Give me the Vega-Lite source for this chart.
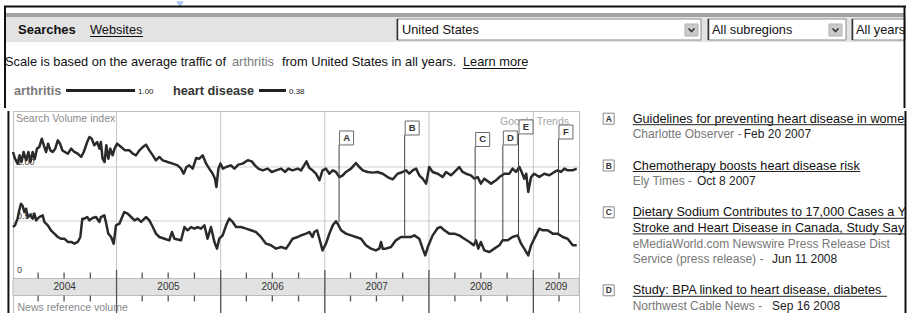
{
"$schema": "https://vega.github.io/schema/vega-lite/v6.json",
"padding": 0,
"background": "white",
"spacing": 0,
"config": {"font": "Liberation Sans", "view": {"stroke": null}},
"datasets": {
"series": [
{"date":"2004-01-04","term":"arthritis","index":1.139},{"date":"2004-01-11","term":"arthritis","index":1.077},{"date":"2004-01-20","term":"arthritis","index":1.031},{"date":"2004-01-27","term":"arthritis","index":1.108},{"date":"2004-02-03","term":"arthritis","index":1.046},{"date":"2004-02-10","term":"arthritis","index":1.139},{"date":"2004-02-19","term":"arthritis","index":1.062},{"date":"2004-02-27","term":"arthritis","index":1.139},{"date":"2004-03-05","term":"arthritis","index":1.046},{"date":"2004-03-13","term":"arthritis","index":1.139},{"date":"2004-03-20","term":"arthritis","index":1.071},{"date":"2004-03-28","term":"arthritis","index":1.170},{"date":"2004-04-05","term":"arthritis","index":1.185},{"date":"2004-04-14","term":"arthritis","index":1.262},{"date":"2004-04-21","term":"arthritis","index":1.201},{"date":"2004-04-29","term":"arthritis","index":1.139},{"date":"2004-05-06","term":"arthritis","index":1.216},{"date":"2004-05-14","term":"arthritis","index":1.154},{"date":"2004-05-22","term":"arthritis","index":1.139},{"date":"2004-05-31","term":"arthritis","index":1.170},{"date":"2004-06-09","term":"arthritis","index":1.247},{"date":"2004-06-17","term":"arthritis","index":1.216},{"date":"2004-06-25","term":"arthritis","index":1.154},{"date":"2004-07-04","term":"arthritis","index":1.139},{"date":"2004-07-14","term":"arthritis","index":1.123},{"date":"2004-07-26","term":"arthritis","index":1.170},{"date":"2004-08-06","term":"arthritis","index":1.139},{"date":"2004-08-18","term":"arthritis","index":1.123},{"date":"2004-08-30","term":"arthritis","index":1.093},{"date":"2004-09-08","term":"arthritis","index":1.139},{"date":"2004-09-20","term":"arthritis","index":1.231},{"date":"2004-09-28","term":"arthritis","index":1.278},{"date":"2004-10-06","term":"arthritis","index":1.262},{"date":"2004-10-15","term":"arthritis","index":1.201},{"date":"2004-10-25","term":"arthritis","index":1.231},{"date":"2004-11-02","term":"arthritis","index":1.170},{"date":"2004-11-07","term":"arthritis","index":1.231},{"date":"2004-11-13","term":"arthritis","index":1.077},{"date":"2004-11-20","term":"arthritis","index":1.046},{"date":"2004-11-26","term":"arthritis","index":1.201},{"date":"2004-12-03","term":"arthritis","index":1.077},{"date":"2004-12-10","term":"arthritis","index":1.170},{"date":"2004-12-18","term":"arthritis","index":1.108},{"date":"2004-12-25","term":"arthritis","index":1.170},{"date":"2005-01-03","term":"arthritis","index":1.216},{"date":"2005-01-17","term":"arthritis","index":1.185},{"date":"2005-01-31","term":"arthritis","index":1.154},{"date":"2005-02-15","term":"arthritis","index":1.154},{"date":"2005-02-27","term":"arthritis","index":1.123},{"date":"2005-03-10","term":"arthritis","index":1.108},{"date":"2005-03-22","term":"arthritis","index":1.154},{"date":"2005-04-03","term":"arthritis","index":1.185},{"date":"2005-04-14","term":"arthritis","index":1.207},{"date":"2005-04-26","term":"arthritis","index":1.154},{"date":"2005-05-08","term":"arthritis","index":1.108},{"date":"2005-05-19","term":"arthritis","index":1.062},{"date":"2005-05-31","term":"arthritis","index":1.093},{"date":"2005-06-12","term":"arthritis","index":1.062},{"date":"2005-06-29","term":"arthritis","index":1.046},{"date":"2005-07-17","term":"arthritis","index":1.031},{"date":"2005-08-03","term":"arthritis","index":1.015},{"date":"2005-08-15","term":"arthritis","index":0.985},{"date":"2005-08-24","term":"arthritis","index":0.938},{"date":"2005-09-03","term":"arthritis","index":1.000},{"date":"2005-09-13","term":"arthritis","index":1.015},{"date":"2005-09-25","term":"arthritis","index":0.985},{"date":"2005-10-07","term":"arthritis","index":1.083},{"date":"2005-10-18","term":"arthritis","index":1.077},{"date":"2005-10-30","term":"arthritis","index":1.108},{"date":"2005-11-11","term":"arthritis","index":1.031},{"date":"2005-11-22","term":"arthritis","index":0.985},{"date":"2005-12-04","term":"arthritis","index":0.938},{"date":"2005-12-12","term":"arthritis","index":0.892},{"date":"2005-12-17","term":"arthritis","index":0.815},{"date":"2005-12-24","term":"arthritis","index":0.985},{"date":"2005-12-31","term":"arthritis","index":1.031},{"date":"2006-01-09","term":"arthritis","index":0.985},{"date":"2006-01-20","term":"arthritis","index":1.000},{"date":"2006-02-06","term":"arthritis","index":1.015},{"date":"2006-02-18","term":"arthritis","index":0.985},{"date":"2006-03-04","term":"arthritis","index":1.022},{"date":"2006-03-19","term":"arthritis","index":1.031},{"date":"2006-04-06","term":"arthritis","index":1.062},{"date":"2006-04-20","term":"arthritis","index":1.052},{"date":"2006-05-01","term":"arthritis","index":1.015},{"date":"2006-05-13","term":"arthritis","index":0.985},{"date":"2006-05-28","term":"arthritis","index":0.969},{"date":"2006-06-15","term":"arthritis","index":0.985},{"date":"2006-06-29","term":"arthritis","index":0.954},{"date":"2006-07-14","term":"arthritis","index":0.969},{"date":"2006-08-01","term":"arthritis","index":0.985},{"date":"2006-08-15","term":"arthritis","index":0.954},{"date":"2006-08-26","term":"arthritis","index":0.985},{"date":"2006-09-10","term":"arthritis","index":0.969},{"date":"2006-09-28","term":"arthritis","index":0.985},{"date":"2006-10-10","term":"arthritis","index":0.969},{"date":"2006-10-24","term":"arthritis","index":1.031},{"date":"2006-10-29","term":"arthritis","index":1.052},{"date":"2006-11-08","term":"arthritis","index":0.991},{"date":"2006-11-19","term":"arthritis","index":0.969},{"date":"2006-12-01","term":"arthritis","index":0.938},{"date":"2006-12-13","term":"arthritis","index":0.877},{"date":"2006-12-24","term":"arthritis","index":0.969},{"date":"2007-01-05","term":"arthritis","index":0.985},{"date":"2007-01-17","term":"arthritis","index":0.938},{"date":"2007-01-29","term":"arthritis","index":0.969},{"date":"2007-02-09","term":"arthritis","index":0.954},{"date":"2007-02-21","term":"arthritis","index":0.907},{"date":"2007-03-05","term":"arthritis","index":0.923},{"date":"2007-03-16","term":"arthritis","index":0.954},{"date":"2007-04-03","term":"arthritis","index":0.985},{"date":"2007-04-20","term":"arthritis","index":1.037},{"date":"2007-05-02","term":"arthritis","index":1.000},{"date":"2007-05-14","term":"arthritis","index":0.969},{"date":"2007-05-31","term":"arthritis","index":0.954},{"date":"2007-06-18","term":"arthritis","index":0.948},{"date":"2007-07-05","term":"arthritis","index":0.954},{"date":"2007-07-23","term":"arthritis","index":0.938},{"date":"2007-08-09","term":"arthritis","index":0.907},{"date":"2007-08-27","term":"arthritis","index":0.886},{"date":"2007-09-13","term":"arthritis","index":0.938},{"date":"2007-10-01","term":"arthritis","index":0.954},{"date":"2007-10-13","term":"arthritis","index":0.969},{"date":"2007-10-24","term":"arthritis","index":0.938},{"date":"2007-11-05","term":"arthritis","index":0.969},{"date":"2007-11-17","term":"arthritis","index":0.985},{"date":"2007-11-28","term":"arthritis","index":0.923},{"date":"2007-12-10","term":"arthritis","index":0.892},{"date":"2007-12-22","term":"arthritis","index":0.846},{"date":"2008-01-02","term":"arthritis","index":1.000},{"date":"2008-01-14","term":"arthritis","index":0.954},{"date":"2008-02-01","term":"arthritis","index":0.938},{"date":"2008-02-18","term":"arthritis","index":0.907},{"date":"2008-03-01","term":"arthritis","index":0.954},{"date":"2008-03-18","term":"arthritis","index":0.923},{"date":"2008-04-05","term":"arthritis","index":0.969},{"date":"2008-04-16","term":"arthritis","index":1.000},{"date":"2008-04-28","term":"arthritis","index":0.954},{"date":"2008-05-10","term":"arthritis","index":0.938},{"date":"2008-05-27","term":"arthritis","index":0.923},{"date":"2008-06-08","term":"arthritis","index":0.892},{"date":"2008-06-20","term":"arthritis","index":0.907},{"date":"2008-07-01","term":"arthritis","index":0.846},{"date":"2008-07-13","term":"arthritis","index":0.892},{"date":"2008-08-06","term":"arthritis","index":0.846},{"date":"2008-08-23","term":"arthritis","index":0.877},{"date":"2008-09-04","term":"arthritis","index":0.907},{"date":"2008-09-21","term":"arthritis","index":0.938},{"date":"2008-10-09","term":"arthritis","index":0.938},{"date":"2008-10-20","term":"arthritis","index":0.985},{"date":"2008-11-01","term":"arthritis","index":0.954},{"date":"2008-11-13","term":"arthritis","index":1.000},{"date":"2008-11-21","term":"arthritis","index":0.954},{"date":"2008-11-30","term":"arthritis","index":0.892},{"date":"2008-12-07","term":"arthritis","index":0.938},{"date":"2008-12-14","term":"arthritis","index":0.769},{"date":"2008-12-24","term":"arthritis","index":0.907},{"date":"2009-01-04","term":"arthritis","index":0.938},{"date":"2009-01-22","term":"arthritis","index":0.907},{"date":"2009-02-08","term":"arthritis","index":0.938},{"date":"2009-02-26","term":"arthritis","index":0.923},{"date":"2009-03-16","term":"arthritis","index":0.954},{"date":"2009-03-27","term":"arthritis","index":0.969},{"date":"2009-04-08","term":"arthritis","index":0.954},{"date":"2009-04-20","term":"arthritis","index":0.985},{"date":"2009-05-01","term":"arthritis","index":0.969},{"date":"2009-05-19","term":"arthritis","index":0.969},{"date":"2009-06-02","term":"arthritis","index":0.985},
{"date":"2004-01-04","term":"heart disease","index":0.444},{"date":"2004-01-11","term":"heart disease","index":0.460},{"date":"2004-01-20","term":"heart disease","index":0.522},{"date":"2004-01-26","term":"heart disease","index":0.599},{"date":"2004-02-01","term":"heart disease","index":0.660},{"date":"2004-02-07","term":"heart disease","index":0.639},{"date":"2004-02-13","term":"heart disease","index":0.583},{"date":"2004-02-19","term":"heart disease","index":0.614},{"date":"2004-02-24","term":"heart disease","index":0.537},{"date":"2004-03-05","term":"heart disease","index":0.559},{"date":"2004-03-13","term":"heart disease","index":0.522},{"date":"2004-03-19","term":"heart disease","index":0.568},{"date":"2004-03-25","term":"heart disease","index":0.506},{"date":"2004-04-05","term":"heart disease","index":0.537},{"date":"2004-04-17","term":"heart disease","index":0.552},{"date":"2004-04-23","term":"heart disease","index":0.491},{"date":"2004-05-05","term":"heart disease","index":0.460},{"date":"2004-05-16","term":"heart disease","index":0.414},{"date":"2004-05-28","term":"heart disease","index":0.383},{"date":"2004-06-09","term":"heart disease","index":0.352},{"date":"2004-06-20","term":"heart disease","index":0.336},{"date":"2004-07-02","term":"heart disease","index":0.336},{"date":"2004-07-14","term":"heart disease","index":0.306},{"date":"2004-07-26","term":"heart disease","index":0.306},{"date":"2004-08-06","term":"heart disease","index":0.290},{"date":"2004-08-18","term":"heart disease","index":0.306},{"date":"2004-08-27","term":"heart disease","index":0.352},{"date":"2004-09-03","term":"heart disease","index":0.522},{"date":"2004-09-10","term":"heart disease","index":0.522},{"date":"2004-09-20","term":"heart disease","index":0.537},{"date":"2004-09-28","term":"heart disease","index":0.506},{"date":"2004-10-09","term":"heart disease","index":0.528},{"date":"2004-10-21","term":"heart disease","index":0.537},{"date":"2004-11-02","term":"heart disease","index":0.491},{"date":"2004-11-07","term":"heart disease","index":0.537},{"date":"2004-11-19","term":"heart disease","index":0.552},{"date":"2004-11-26","term":"heart disease","index":0.475},{"date":"2004-12-03","term":"heart disease","index":0.383},{"date":"2004-12-13","term":"heart disease","index":0.352},{"date":"2004-12-22","term":"heart disease","index":0.290},{"date":"2004-12-30","term":"heart disease","index":0.460},{"date":"2005-01-11","term":"heart disease","index":0.475},{"date":"2005-01-28","term":"heart disease","index":0.583},{"date":"2005-02-09","term":"heart disease","index":0.568},{"date":"2005-02-21","term":"heart disease","index":0.537},{"date":"2005-03-05","term":"heart disease","index":0.506},{"date":"2005-03-16","term":"heart disease","index":0.522},{"date":"2005-03-28","term":"heart disease","index":0.491},{"date":"2005-04-14","term":"heart disease","index":0.537},{"date":"2005-04-26","term":"heart disease","index":0.506},{"date":"2005-05-08","term":"heart disease","index":0.444},{"date":"2005-05-19","term":"heart disease","index":0.383},{"date":"2005-05-31","term":"heart disease","index":0.352},{"date":"2005-06-18","term":"heart disease","index":0.336},{"date":"2005-07-05","term":"heart disease","index":0.321},{"date":"2005-07-14","term":"heart disease","index":0.398},{"date":"2005-07-23","term":"heart disease","index":0.336},{"date":"2005-08-15","term":"heart disease","index":0.321},{"date":"2005-08-27","term":"heart disease","index":0.444},{"date":"2005-09-07","term":"heart disease","index":0.414},{"date":"2005-09-19","term":"heart disease","index":0.444},{"date":"2005-10-01","term":"heart disease","index":0.429},{"date":"2005-10-12","term":"heart disease","index":0.444},{"date":"2005-10-24","term":"heart disease","index":0.429},{"date":"2005-11-05","term":"heart disease","index":0.460},{"date":"2005-11-16","term":"heart disease","index":0.336},{"date":"2005-11-28","term":"heart disease","index":0.444},{"date":"2005-12-10","term":"heart disease","index":0.306},{"date":"2005-12-19","term":"heart disease","index":0.244},{"date":"2005-12-27","term":"heart disease","index":0.336},{"date":"2006-01-08","term":"heart disease","index":0.367},{"date":"2006-01-20","term":"heart disease","index":0.460},{"date":"2006-01-31","term":"heart disease","index":0.522},{"date":"2006-02-12","term":"heart disease","index":0.491},{"date":"2006-02-24","term":"heart disease","index":0.444},{"date":"2006-03-13","term":"heart disease","index":0.444},{"date":"2006-03-31","term":"heart disease","index":0.429},{"date":"2006-04-17","term":"heart disease","index":0.414},{"date":"2006-05-05","term":"heart disease","index":0.398},{"date":"2006-05-22","term":"heart disease","index":0.352},{"date":"2006-06-09","term":"heart disease","index":0.290},{"date":"2006-06-26","term":"heart disease","index":0.275},{"date":"2006-07-14","term":"heart disease","index":0.244},{"date":"2006-08-01","term":"heart disease","index":0.259},{"date":"2006-08-18","term":"heart disease","index":0.244},{"date":"2006-08-30","term":"heart disease","index":0.290},{"date":"2006-09-10","term":"heart disease","index":0.336},{"date":"2006-09-28","term":"heart disease","index":0.352},{"date":"2006-10-10","term":"heart disease","index":0.367},{"date":"2006-10-27","term":"heart disease","index":0.383},{"date":"2006-11-08","term":"heart disease","index":0.398},{"date":"2006-11-19","term":"heart disease","index":0.352},{"date":"2006-11-25","term":"heart disease","index":0.398},{"date":"2006-12-05","term":"heart disease","index":0.414},{"date":"2006-12-13","term":"heart disease","index":0.336},{"date":"2006-12-24","term":"heart disease","index":0.228},{"date":"2007-01-05","term":"heart disease","index":0.290},{"date":"2007-01-17","term":"heart disease","index":0.383},{"date":"2007-01-29","term":"heart disease","index":0.460},{"date":"2007-02-09","term":"heart disease","index":0.497},{"date":"2007-02-15","term":"heart disease","index":0.475},{"date":"2007-02-27","term":"heart disease","index":0.414},{"date":"2007-03-16","term":"heart disease","index":0.383},{"date":"2007-04-03","term":"heart disease","index":0.367},{"date":"2007-04-20","term":"heart disease","index":0.352},{"date":"2007-05-08","term":"heart disease","index":0.336},{"date":"2007-05-25","term":"heart disease","index":0.275},{"date":"2007-06-12","term":"heart disease","index":0.244},{"date":"2007-06-29","term":"heart disease","index":0.228},{"date":"2007-07-11","term":"heart disease","index":0.244},{"date":"2007-07-17","term":"heart disease","index":0.306},{"date":"2007-07-23","term":"heart disease","index":0.244},{"date":"2007-08-03","term":"heart disease","index":0.244},{"date":"2007-08-21","term":"heart disease","index":0.259},{"date":"2007-09-07","term":"heart disease","index":0.321},{"date":"2007-09-25","term":"heart disease","index":0.352},{"date":"2007-10-13","term":"heart disease","index":0.352},{"date":"2007-10-30","term":"heart disease","index":0.352},{"date":"2007-11-11","term":"heart disease","index":0.367},{"date":"2007-11-28","term":"heart disease","index":0.336},{"date":"2007-12-10","term":"heart disease","index":0.244},{"date":"2007-12-19","term":"heart disease","index":0.182},{"date":"2007-12-28","term":"heart disease","index":0.259},{"date":"2008-01-14","term":"heart disease","index":0.367},{"date":"2008-02-01","term":"heart disease","index":0.435},{"date":"2008-02-12","term":"heart disease","index":0.444},{"date":"2008-02-24","term":"heart disease","index":0.414},{"date":"2008-03-12","term":"heart disease","index":0.383},{"date":"2008-03-30","term":"heart disease","index":0.383},{"date":"2008-04-16","term":"heart disease","index":0.367},{"date":"2008-05-04","term":"heart disease","index":0.336},{"date":"2008-05-22","term":"heart disease","index":0.306},{"date":"2008-06-06","term":"heart disease","index":0.275},{"date":"2008-06-14","term":"heart disease","index":0.321},{"date":"2008-06-22","term":"heart disease","index":0.244},{"date":"2008-07-01","term":"heart disease","index":0.306},{"date":"2008-07-13","term":"heart disease","index":0.228},{"date":"2008-07-31","term":"heart disease","index":0.213},{"date":"2008-08-17","term":"heart disease","index":0.244},{"date":"2008-09-04","term":"heart disease","index":0.275},{"date":"2008-09-15","term":"heart disease","index":0.321},{"date":"2008-10-03","term":"heart disease","index":0.321},{"date":"2008-10-20","term":"heart disease","index":0.352},{"date":"2008-11-07","term":"heart disease","index":0.367},{"date":"2008-11-19","term":"heart disease","index":0.290},{"date":"2008-11-30","term":"heart disease","index":0.244},{"date":"2008-12-14","term":"heart disease","index":0.182},{"date":"2008-12-24","term":"heart disease","index":0.275},{"date":"2009-01-10","term":"heart disease","index":0.367},{"date":"2009-01-22","term":"heart disease","index":0.429},{"date":"2009-02-03","term":"heart disease","index":0.414},{"date":"2009-02-20","term":"heart disease","index":0.414},{"date":"2009-03-10","term":"heart disease","index":0.383},{"date":"2009-03-27","term":"heart disease","index":0.383},{"date":"2009-04-14","term":"heart disease","index":0.352},{"date":"2009-05-01","term":"heart disease","index":0.336},{"date":"2009-05-19","term":"heart disease","index":0.275},{"date":"2009-06-02","term":"heart disease","index":0.275}
],
"flags": [
{"date":"2007-02-20","letter":"A","base":0.49,"flag":1.204},
{"date":"2007-10-08","letter":"B","base":0.352,"flag":1.296},
{"date":"2008-06-11","letter":"C","base":0.28,"flag":1.19},
{"date":"2008-09-16","letter":"D","base":0.321,"flag":1.204},
{"date":"2008-11-10","letter":"E","base":0.352,"flag":1.306},
{"date":"2009-03-30","letter":"F","base":0.383,"flag":1.259}
],
"years": [
{"year":"2004","start":"2004-01-04","end":"2005-01-01","mid":"2004-07-03"},
{"year":"2005","start":"2005-01-01","end":"2006-01-01","mid":"2005-07-02"},
{"year":"2006","start":"2006-01-01","end":"2007-01-01","mid":"2006-07-02"},
{"year":"2007","start":"2007-01-01","end":"2008-01-01","mid":"2007-07-02"},
{"year":"2008","start":"2008-01-01","end":"2009-01-01","mid":"2008-07-02"},
{"year":"2009","start":"2009-01-01","end":"2009-06-10","mid":"2009-03-22"}
],
"yearStarts": [{"date":"2005-01-01"},{"date":"2006-01-01"},{"date":"2007-01-01"},{"date":"2008-01-01"},{"date":"2009-01-01"}],
"quarters": [{"date":"2004-04-01"},{"date":"2004-07-01"},{"date":"2004-10-01"},{"date":"2005-04-01"},{"date":"2005-07-01"},{"date":"2005-10-01"},{"date":"2006-04-01"},{"date":"2006-07-01"},{"date":"2006-10-01"},{"date":"2007-04-01"},{"date":"2007-07-01"},{"date":"2007-10-01"},{"date":"2008-04-01"},{"date":"2008-07-01"},{"date":"2008-10-01"},{"date":"2009-04-01"}]
},
"vconcat": [
{
"width": 895, "height": 109,
"view": {"stroke": null},
"layer": [
{"data": {"values": [{"x":4,"x2":904,"y":13,"y2":42}]},
 "mark": {"type": "rect", "fill": "#e3e3e3"},
 "encoding": {"x": {"field":"x","type":"quantitative","scale":{"domain":[12,907],"nice":false,"zero":false},"axis":null},"x2":{"field":"x2"},"y": {"field":"y","type":"quantitative","scale":{"domain":[0,109],"reverse":true,"nice":false,"zero":false},"axis":null},"y2":{"field":"y2"}}},
{"data": {"values": [{"x":4,"x2":904,"y":13,"y2":17}]},
 "mark": {"type": "rect", "fill": "#a3a3a3"},
 "encoding": {"x": {"field":"x","type":"quantitative","axis":null},"x2":{"field":"x2"},"y": {"field":"y","type":"quantitative","axis":null},"y2":{"field":"y2"}}},
{"data": {"values": [{"x":396,"x2":700,"y":19,"y2":40},{"x":707,"x2":845,"y":19,"y2":40},{"x":851,"x2":904,"y":19,"y2":40}]},
 "mark": {"type": "rect", "fill": "white", "stroke": "#8a8a8a", "strokeWidth": 1},
 "encoding": {"x": {"field":"x","type":"quantitative","axis":null},"x2":{"field":"x2"},"y": {"field":"y","type":"quantitative","axis":null},"y2":{"field":"y2"}}},
{"data": {"values": [{"x":396.5,"x2":396.5,"y":19,"y2":40},{"x":707.5,"x2":707.5,"y":19,"y2":40},{"x":851.5,"x2":851.5,"y":19,"y2":40}]},
 "mark": {"type": "rule", "color": "#333", "strokeWidth": 1.5},
 "encoding": {"x": {"field":"x","type":"quantitative","axis":null},"x2":{"field":"x2"},"y": {"field":"y","type":"quantitative","axis":null},"y2":{"field":"y2"}}},
{"data": {"values": [{"x":684,"x2":697,"y":24,"y2":36},{"x":828,"x2":841,"y":24,"y2":36}]},
 "mark": {"type": "rect", "fill": "#cbcbcb", "stroke": "#b0b0b0", "strokeWidth": 1},
 "encoding": {"x": {"field":"x","type":"quantitative","axis":null},"x2":{"field":"x2"},"y": {"field":"y","type":"quantitative","axis":null},"y2":{"field":"y2"}}},
{"data": {"values": [{"x":690.5,"y":30},{"x":834.5,"y":30}]},
 "mark": {"type": "point", "shape": "M-1,-0.5L0,0.5L1,-0.5", "size": 36, "filled": false, "stroke": "#333", "strokeWidth": 1.6, "opacity": 1},
 "encoding": {"x": {"field":"x","type":"quantitative","axis":null},"y": {"field":"y","type":"quantitative","axis":null}}},
{"data": {"values": [{"x":179,"y":4.5}]},
 "mark": {"type": "point", "shape": "triangle-down", "size": 60, "filled": true, "color": "#a9c9f0", "opacity": 1},
 "encoding": {"x": {"field":"x","type":"quantitative","axis":null},"y": {"field":"y","type":"quantitative","axis":null}}},
{"data": {"values": [{"x":3,"x2":905,"y":6.5,"y2":6.5},{"x":4,"x2":4,"y":6,"y2":108},{"x":903.5,"x2":903.5,"y":6,"y2":108}]},
 "mark": {"type": "rule", "color": "#111", "strokeWidth": 2},
 "encoding": {"x": {"field":"x","type":"quantitative","axis":null},"x2":{"field":"x2"},"y": {"field":"y","type":"quantitative","axis":null},"y2":{"field":"y2"}}},
{"data": {"values": [{"x":17,"y":30,"label":"Searches"}]},
 "mark": {"type": "text", "align": "left", "baseline": "middle", "fontSize": 13, "fontWeight": "bold", "color": "#111"},
 "encoding": {"x": {"field":"x","type":"quantitative","axis":null},"y": {"field":"y","type":"quantitative","axis":null},"text": {"field":"label","type":"nominal"}}},
{"data": {"values": [{"x":89,"y":30,"label":"Websites"},{"x":401,"y":30,"label":"United States"},{"x":711,"y":30,"label":"All subregions"},{"x":855,"y":30,"label":"All years"},{"x":4,"y":62,"label":"Scale is based on the average traffic of"},{"x":281,"y":62,"label":"from United States in all years."},{"x":462,"y":62,"label":"Learn more"}]},
 "mark": {"type": "text", "align": "left", "baseline": "middle", "fontSize": 12.8, "color": "#111"},
 "encoding": {"x": {"field":"x","type":"quantitative","axis":null},"y": {"field":"y","type":"quantitative","axis":null},"text": {"field":"label","type":"nominal"}}},
{"data": {"values": [{"x":231,"y":62,"label":"arthritis"}]},
 "mark": {"type": "text", "align": "left", "baseline": "middle", "fontSize": 12.8, "color": "#7a7a7a"},
 "encoding": {"x": {"field":"x","type":"quantitative","axis":null},"y": {"field":"y","type":"quantitative","axis":null},"text": {"field":"label","type":"nominal"}}},
{"data": {"values": [{"x":89,"x2":142,"y":36.5,"y2":36.5},{"x":462,"x2":525,"y":68.5,"y2":68.5}]},
 "mark": {"type": "rule", "color": "#111", "strokeWidth": 1},
 "encoding": {"x": {"field":"x","type":"quantitative","axis":null},"x2":{"field":"x2"},"y": {"field":"y","type":"quantitative","axis":null},"y2":{"field":"y2"}}},
{"data": {"values": [{"x":13,"y":90.5,"label":"arthritis"},{"x":172,"y":90.5,"label":"heart disease"}]},
 "mark": {"type": "text", "align": "left", "baseline": "middle", "fontSize": 12.7, "fontWeight": "bold"},
 "encoding": {"x": {"field":"x","type":"quantitative","axis":null},"y": {"field":"y","type":"quantitative","axis":null},"text": {"field":"label","type":"nominal"},"color": {"field":"label","type":"nominal","scale":{"domain":["arthritis","heart disease"],"range":["#7a7a7a","#333333"]},"legend":null}}},
{"data": {"values": [{"x":65,"x2":134,"y":90.5,"y2":90.5},{"x":258,"x2":285,"y":90.5,"y2":90.5}]},
 "mark": {"type": "rule", "color": "#222", "strokeWidth": 3},
 "encoding": {"x": {"field":"x","type":"quantitative","axis":null},"x2":{"field":"x2"},"y": {"field":"y","type":"quantitative","axis":null},"y2":{"field":"y2"}}},
{"data": {"values": [{"x":137,"y":91.5,"label":"1.00"},{"x":288,"y":91.5,"label":"0.38"}]},
 "mark": {"type": "text", "align": "left", "baseline": "middle", "fontSize": 8, "color": "#222"},
 "encoding": {"x": {"field":"x","type":"quantitative","axis":null},"y": {"field":"y","type":"quantitative","axis":null},"text": {"field":"label","type":"nominal"}}}
]
},
{
"spacing": 20,
"hconcat": [
{
"width": 566, "height": 205,
"view": {"stroke": "#bdbdbd"},
"layer": [
{"data": {"values": [{"date":"2003-11-23"}]},
 "mark": {"type": "rule", "color": "#ffffff", "opacity": 0, "strokeWidth": 1},
 "encoding": {"x": {"field":"date","type":"temporal","scale":{"domain":[{"year":2004,"month":1,"date":4,"utc":true},{"year":2009,"month":6,"date":10,"utc":true}],"nice":false},"axis":null}}},
{"data": {"values": [{"level":0.5},{"level":1}]},
 "mark": {"type": "rule", "color": "#cfcfcf", "strokeWidth": 1},
 "encoding": {"y": {"field":"level","type":"quantitative","scale":{"domain":[-0.3796,1.5185],"nice":false,"zero":false},"axis":null}}},
{"data": {"name": "yearStarts"},
 "mark": {"type": "rule", "color": "#c6c6c6", "strokeWidth": 1},
 "encoding": {"x": {"field":"date","type":"temporal","axis":null}}},
{"data": {"values": [{"level":0,"label":"0"},{"level":0.5,"label":"0.50"},{"level":1,"label":"1.00"}]},
 "mark": {"type": "text", "align": "left", "baseline": "bottom", "fontSize": 9, "color": "#444", "xOffset": 4},
 "encoding": {"x": {"datum": {"year":2004,"month":1,"date":4,"utc":true},"type":"temporal","axis":null},"y": {"field":"level","type":"quantitative","axis":null},"text": {"field":"label","type":"nominal"}}},
{"data": {"values": [{"label":"Search Volume index"}]},
 "mark": {"type": "text", "align": "left", "baseline": "top", "fontSize": 10.5, "color": "#8a8a8a", "xOffset": 3, "yOffset": 3},
 "encoding": {"x": {"datum": {"year":2004,"month":1,"date":4,"utc":true},"type":"temporal","axis":null},"y": {"datum": 1.5185,"type":"quantitative","axis":null},"text": {"field":"label","type":"nominal"}}},
{"data": {"name": "years"},
 "mark": {"type": "rect", "fill": "#e2e2e2", "stroke": "#bcbcbc", "strokeWidth": 1},
 "encoding": {"x": {"field":"start","type":"temporal","axis":null},"x2":{"field":"end"},"y": {"datum": -0.0324,"type":"quantitative","axis":null},"y2":{"datum": -0.1898}}},
{"data": {"name": "quarters"},
 "mark": {"type": "rule", "color": "#555", "strokeWidth": 1.3},
 "encoding": {"x": {"field":"date","type":"temporal","axis":null},"y": {"datum": 0.0231,"type":"quantitative","axis":null},"y2":{"datum": -0.0324}}},
{"data": {"name": "quarters"},
 "mark": {"type": "rule", "color": "#555", "strokeWidth": 1.3},
 "encoding": {"x": {"field":"date","type":"temporal","axis":null},"y": {"datum": -0.1898,"type":"quantitative","axis":null},"y2":{"datum": -0.2454}}},
{"data": {"name": "yearStarts"},
 "mark": {"type": "rule", "color": "#555", "strokeWidth": 1.3},
 "encoding": {"x": {"field":"date","type":"temporal","axis":null},"y": {"datum": 0.0463,"type":"quantitative","axis":null},"y2":{"datum": -0.3796}}},
{"data": {"name": "years"},
 "mark": {"type": "text", "align": "center", "baseline": "middle", "fontSize": 10, "color": "#333"},
 "encoding": {"x": {"field":"mid","type":"temporal","axis":null},"y": {"datum": -0.111,"type":"quantitative","axis":null},"text": {"field":"year","type":"nominal"}}},
{"data": {"values": [{"label":"News reference volume"}]},
 "mark": {"type": "text", "align": "left", "baseline": "middle", "fontSize": 10.5, "color": "#888", "xOffset": 4.5},
 "encoding": {"x": {"datum": {"year":2004,"month":1,"date":4,"utc":true},"type":"temporal","axis":null},"y": {"datum": -0.31,"type":"quantitative","axis":null},"text": {"field":"label","type":"nominal"}}},
{"data": {"values": [{"label":"Google Trends"}]},
 "mark": {"type": "text", "align": "right", "baseline": "middle", "fontSize": 10.5, "color": "#a5a5a5", "xOffset": -10},
 "encoding": {"x": {"datum": {"year":2009,"month":6,"date":10,"utc":true},"type":"temporal","axis":null},"y": {"datum": 1.4167,"type":"quantitative","axis":null},"text": {"field":"label","type":"nominal"}}},
{"data": {"name": "series"},
 "mark": {"type": "line", "color": "#2a2a2a", "strokeWidth": 2.5, "strokeJoin": "round"},
 "encoding": {
  "x": {"field":"date","type":"temporal","axis":null},
  "y": {"field":"index","type":"quantitative","axis":null},
  "detail": {"field":"term","type":"nominal"}}},
{"data": {"name": "flags"},
 "mark": {"type": "rule", "color": "#444", "strokeWidth": 1},
 "encoding": {"x": {"field":"date","type":"temporal","axis":null},"y": {"field":"base","type":"quantitative","axis":null},"y2":{"field":"flag"}}},
{"data": {"name": "flags"},
 "mark": {"type": "point", "shape": "square", "size": 196, "filled": true, "fill": "white", "stroke": "#6a6a6a", "strokeWidth": 1, "opacity": 1, "xOffset": 7.5, "yOffset": -7},
 "encoding": {"x": {"field":"date","type":"temporal","axis":null},"y": {"field":"flag","type":"quantitative","axis":null}}},
{"data": {"name": "flags"},
 "mark": {"type": "text", "align": "center", "baseline": "middle", "fontSize": 9.5, "fontWeight": "bold", "color": "#333", "xOffset": 7.5, "yOffset": -7},
 "encoding": {"x": {"field":"date","type":"temporal","axis":null},"y": {"field":"flag","type":"quantitative","axis":null},"text": {"field":"letter","type":"nominal"}}},
{"data": {"values": [{"date":"2003-12-19"}]},
 "mark": {"type": "rule", "color": "#111", "strokeWidth": 2},
 "encoding": {"x": {"field":"date","type":"temporal","axis":null}}}
]
},
{
"width": 305, "height": 205,
"view": {"stroke": null},
"layer": [
{"data": {"values": [{"line":0,"letter":"A"},{"line":3,"letter":"B"},{"line":6,"letter":"C"},{"line":11,"letter":"D"}]},
 "mark": {"type": "point", "shape": "square", "size": 121, "filled": true, "fill": "white", "stroke": "#888", "strokeWidth": 1, "opacity": 1},
 "encoding": {"x": {"datum": 8.7,"type":"quantitative","scale":{"domain":[0,305],"nice":false,"zero":false},"axis":null},"y": {"field":"line","type":"quantitative","scale":{"domain":[-0.4936,12.647],"reverse":true,"nice":false,"zero":false},"axis":null}}},
{"data": {"values": [{"line":0,"letter":"A"},{"line":3,"letter":"B"},{"line":6,"letter":"C"},{"line":11,"letter":"D"}]},
 "mark": {"type": "text", "align": "center", "baseline": "middle", "fontSize": 8.5, "fontWeight": "bold", "color": "#333"},
 "encoding": {"x": {"datum": 8.7,"type":"quantitative","axis":null},"y": {"field":"line","type":"quantitative","axis":null},"text": {"field":"letter","type":"nominal"}}},
{"data": {"values": [{"line":0,"text":"Guidelines for preventing heart disease in women","ulEnd":305},{"line":3,"text":"Chemotherapy boosts heart disease risk","ulEnd":260.3},{"line":6,"text":"Dietary Sodium Contributes to 17,000 Cases a Y","ulEnd":305},{"line":7,"text":"Stroke and Heart Disease in Canada, Study Say","ulEnd":305},{"line":11,"text":"Study: BPA linked to heart disease, diabetes","ulEnd":287}]},
 "layer": [
  {"mark": {"type": "text", "align": "left", "baseline": "middle", "fontSize": 12.7, "color": "#111", "clip": true},
   "encoding": {"x": {"datum": 32.7,"type":"quantitative","axis":null},"y": {"field":"line","type":"quantitative","axis":null},"text": {"field":"text","type":"nominal"}}},
  {"mark": {"type": "rule", "color": "#222", "strokeWidth": 1, "yOffset": 6, "clip": true},
   "encoding": {"x": {"field":"ulEnd","type":"quantitative","axis":null},"x2": {"datum": 32.7},"y": {"field":"line","type":"quantitative","axis":null}}}
 ]},
{"data": {"values": [{"line":1,"text":"Charlotte Observer -"},{"line":4,"text":"Ely Times -"},{"line":8,"text":"eMediaWorld.com Newswire Press Release Dist"},{"line":9,"text":"Service (press release) -"},{"line":12,"text":"Northwest Cable News -"}]},
 "mark": {"type": "text", "align": "left", "baseline": "middle", "fontSize": 12, "color": "#777", "clip": true},
 "encoding": {"x": {"datum": 32.7,"type":"quantitative","axis":null},"y": {"field":"line","type":"quantitative","axis":null},"text": {"field":"text","type":"nominal"}}},
{"data": {"values": [{"line":1,"x":143.7,"text":"Feb 20 2007"},{"line":4,"x":97,"text":"Oct 8 2007"},{"line":9,"x":172,"text":"Jun 11 2008"},{"line":12,"x":172,"text":"Sep 16 2008"}]},
 "mark": {"type": "text", "align": "left", "baseline": "middle", "fontSize": 12, "color": "#222", "clip": true},
 "encoding": {"x": {"field":"x","type":"quantitative","axis":null},"y": {"field":"line","type":"quantitative","axis":null},"text": {"field":"text","type":"nominal"}}},
{"data": {"values": [{"edge":"right"}]},
 "mark": {"type": "rule", "color": "#111", "strokeWidth": 2},
 "encoding": {"x": {"datum": 305.5,"type":"quantitative","axis":null}}}
]
}
]
}
]
}
